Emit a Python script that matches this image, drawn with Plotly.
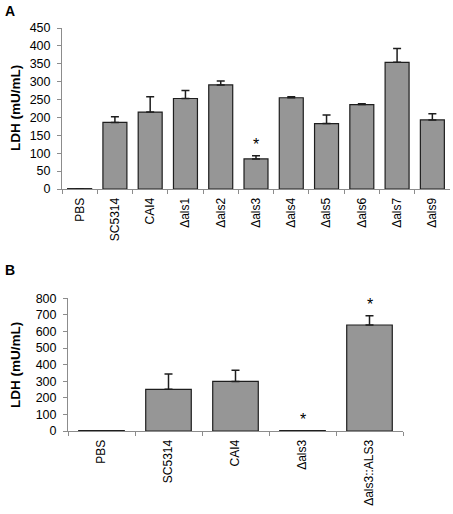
import plotly.graph_objects as go

# Panel A data
cats_a = ["PBS", "SC5314", "CAI4", "Δals1", "Δals2", "Δals3", "Δals4", "Δals5", "Δals6", "Δals7", "Δals9"]
vals_a = [1, 186, 215, 253, 291, 84, 255, 183, 236, 354, 193]
errs_a = [0, 16, 43, 22, 11, 9, 3, 24, 2, 39, 17]
star_a = ["Δals3"]

# Panel B data
cats_b = ["PBS", "SC5314", "CAI4", "Δals3", "Δals3::ALS3"]
vals_b = [2, 251, 299, 2, 639]
errs_b = [0, 92, 67, 0, 56]
star_b = ["Δals3", "Δals3::ALS3"]

yticks_a = list(range(0, 451, 50))
yticks_b = list(range(0, 801, 100))

W, H = 453, 514
FONT = "Liberation Sans, Arial, sans-serif"
BAR = "#969696"
EDGE = "#1e1e1e"
AX = "#8c8c8c"


def px(x):
    return x / W


def py(y):
    return 1 - y / H


fig = go.Figure()


def add_panel(cats, vals, errs, xa, ya):
    fig.add_trace(go.Bar(
        x=cats, y=vals, xaxis=xa, yaxis=ya,
        marker=dict(color=BAR, line=dict(color=EDGE, width=1.2)),
        error_y=dict(type="data", array=errs, arrayminus=[0] * len(errs), symmetric=False,
                     color=EDGE, thickness=1.5, width=4),
        showlegend=False, hoverinfo="x+y",
    ))


add_panel(cats_a, vals_a, errs_a, "x", "y")
add_panel(cats_b, vals_b, errs_b, "x2", "y2")

tickfont = dict(family=FONT, size=12, color="black")


def xaxis_cfg(dom, anchor):
    return dict(domain=dom, anchor=anchor, type="category", tickangle=-90, automargin=False,
                showline=True, linecolor=AX, linewidth=1, ticks="outside", tickson="boundaries",
                ticklen=4, tickcolor=AX, tickfont=tickfont, showgrid=False, zeroline=False,
                ticklabelstandoff=3, fixedrange=True)


def yaxis_cfg(dom, anchor, rng, vals):
    return dict(domain=dom, anchor=anchor, range=rng, tickvals=vals, automargin=False,
                showline=True, linecolor=AX, linewidth=1, ticks="outside", ticklen=4,
                tickcolor=AX, tickfont=dict(family=FONT, size=12.5, color="black"),
                ticklabelstandoff=4, showgrid=False, zeroline=False)


fig.update_layout(
    width=W, height=H, margin=dict(l=0, r=0, t=0, b=0, autoexpand=False),
    paper_bgcolor="white", plot_bgcolor="white",
    bargap=0.32,
    xaxis=xaxis_cfg([px(62), px(450)], "y"),
    yaxis=yaxis_cfg([py(189), py(28)], "x", [0, 450], yticks_a),
    xaxis2=xaxis_cfg([px(68), px(403)], "y2"),
    yaxis2=yaxis_cfg([py(431), py(298.3)], "x2", [0, 800], yticks_b),
    font=dict(family=FONT),
)

ann = []
# asterisks
for c in star_a:
    i = cats_a.index(c)
    ann.append(dict(x=c, y=vals_a[i] + errs_a[i], xref="x", yref="y", text="*", showarrow=False,
                    yanchor="bottom", yshift=1, font=dict(family=FONT, size=16, color="black")))
for c in star_b:
    i = cats_b.index(c)
    ann.append(dict(x=c, y=vals_b[i] + errs_b[i], xref="x2", yref="y2", text="*", showarrow=False,
                    yanchor="bottom", yshift=1, font=dict(family=FONT, size=16, color="black")))
# y titles
for yc in [py(108), py(365)]:
    ann.append(dict(x=px(15), y=yc, xref="paper", yref="paper", text="<b>LDH (mU/mL)</b>",
                    textangle=-90, showarrow=False, xanchor="center", yanchor="middle",
                    font=dict(family=FONT, size=13.5, color="black")))
# panel letters
ann.append(dict(x=px(10), y=py(11), xref="paper", yref="paper", text="<b>A</b>", showarrow=False,
                xanchor="center", yanchor="middle", font=dict(family=FONT, size=14, color="black")))
ann.append(dict(x=px(10), y=py(270), xref="paper", yref="paper", text="<b>B</b>", showarrow=False,
                xanchor="center", yanchor="middle", font=dict(family=FONT, size=14, color="black")))
fig.update_layout(annotations=ann)

fig.write_html("out.html", config={"displayModeBar": False},
               post_script="document.body.style.margin='0';")
